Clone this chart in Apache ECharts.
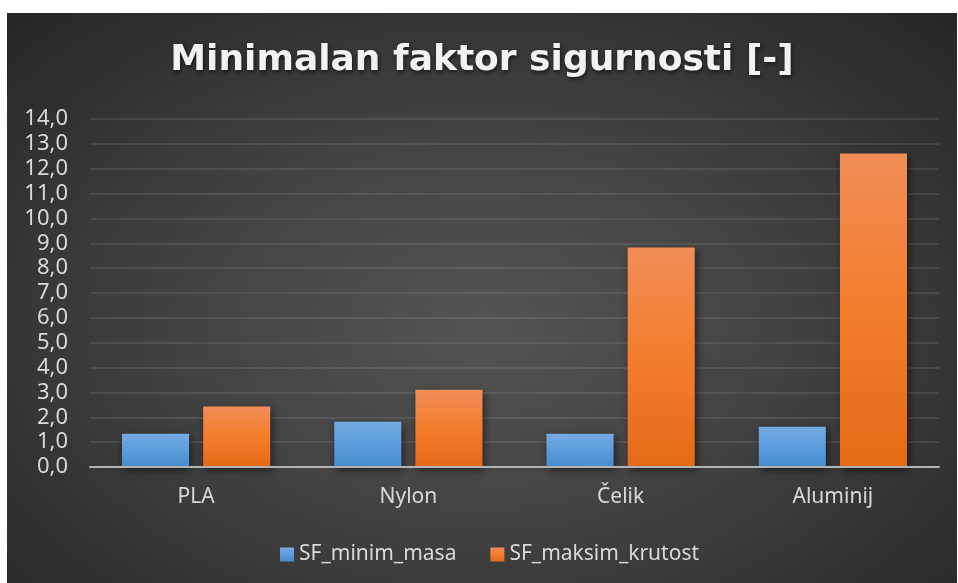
<!DOCTYPE html>
<html>
<head>
<meta charset="utf-8">
<script src="https://cdn.jsdelivr.net/npm/echarts@6/dist/echarts.min.js"></script>
<style>
  html, body { margin: 0; padding: 0; background: #ffffff; }
  #chart {
    position: absolute; left: 7px; top: 13px; width: 950px; height: 570px;
    background: radial-gradient(ellipse at 50% 55%, #545454 0%, #424242 45%, #262626 100%);
  }
</style>
</head>
<body>
<div id="chart"></div>
<script>
// Materials and safety factors for the two design variants
const categories = ['PLA', 'Nylon', 'Čelik', 'Aluminij'];
const seriesNames = ['SF_minim_masa', 'SF_maksim_krutost'];
const sfMinimMasa = [1.34, 1.82, 1.34, 1.62];
const sfMaksimKrutost = [2.43, 3.11, 8.83, 12.61];

const fontFamily = '"Noto Sans", "Open Sans", sans-serif';
const labelColor = '#d9d9d9';

function vGrad(top, mid, bottom) {
  return {
    type: 'linear', x: 0, y: 0, x2: 0, y2: 1,
    colorStops: [
      { offset: 0, color: top },
      { offset: 0.5, color: mid },
      { offset: 1, color: bottom }
    ]
  };
}

const barShadow = {
  shadowBlur: 8,
  shadowColor: 'rgba(0,0,0,0.55)',
  shadowOffsetX: 2,
  shadowOffsetY: 3
};

const chart = echarts.init(document.getElementById('chart'));
chart.setOption({
  backgroundColor: 'transparent',
  animation: false,
  title: {
    text: 'Minimalan faktor sigurnosti [-]',
    left: 'center',
    top: 25,
    textStyle: {
      color: '#f2f2f2',
      fontFamily: '"DejaVu Sans", sans-serif',
      fontWeight: 'bold',
      fontSize: 36,
      textShadowColor: 'rgba(0,0,0,0.6)',
      textShadowBlur: 4,
      textShadowOffsetX: 1,
      textShadowOffsetY: 2
    }
  },
  legend: {
    data: seriesNames,
    top: 526,
    left: 268,
    itemWidth: 14,
    itemHeight: 14,
    itemGap: 34,
    icon: 'rect',
    textStyle: { color: labelColor, fontFamily: fontFamily, fontSize: 21 }
  },
  grid: { left: 83, right: 18, top: 106, bottom: 116, containLabel: false },
  xAxis: {
    type: 'category',
    data: categories,
    z: 3,
    axisLine: { lineStyle: { color: '#b3b3b3', width: 2 } },
    axisTick: { show: false },
    axisLabel: { color: labelColor, fontFamily: fontFamily, fontSize: 21, margin: 20 }
  },
  yAxis: {
    type: 'value',
    min: 0,
    max: 14,
    interval: 1,
    axisLine: { show: false },
    axisTick: { show: false },
    splitLine: { lineStyle: { color: 'rgba(255,255,255,0.12)', width: 1.5 } },
    axisLabel: {
      color: labelColor, fontFamily: fontFamily, fontSize: 22, margin: 22,
      formatter: v => v.toFixed(1).replace('.', ',')
    }
  },
  series: [
    {
      name: seriesNames[0],
      type: 'bar',
      data: sfMinimMasa,
      barWidth: '31.6%',
      barGap: '21%',
      itemStyle: Object.assign({ color: vGrad('#75aae2', '#5c9ddc', '#458bcc') }, barShadow)
    },
    {
      name: seriesNames[1],
      type: 'bar',
      data: sfMaksimKrutost,
      barWidth: '31.6%',
      barGap: '21%',
      itemStyle: Object.assign({ color: vGrad('#f08d58', '#f47d2c', '#e46a17') }, barShadow)
    }
  ]
});
</script>
</body>
</html>
